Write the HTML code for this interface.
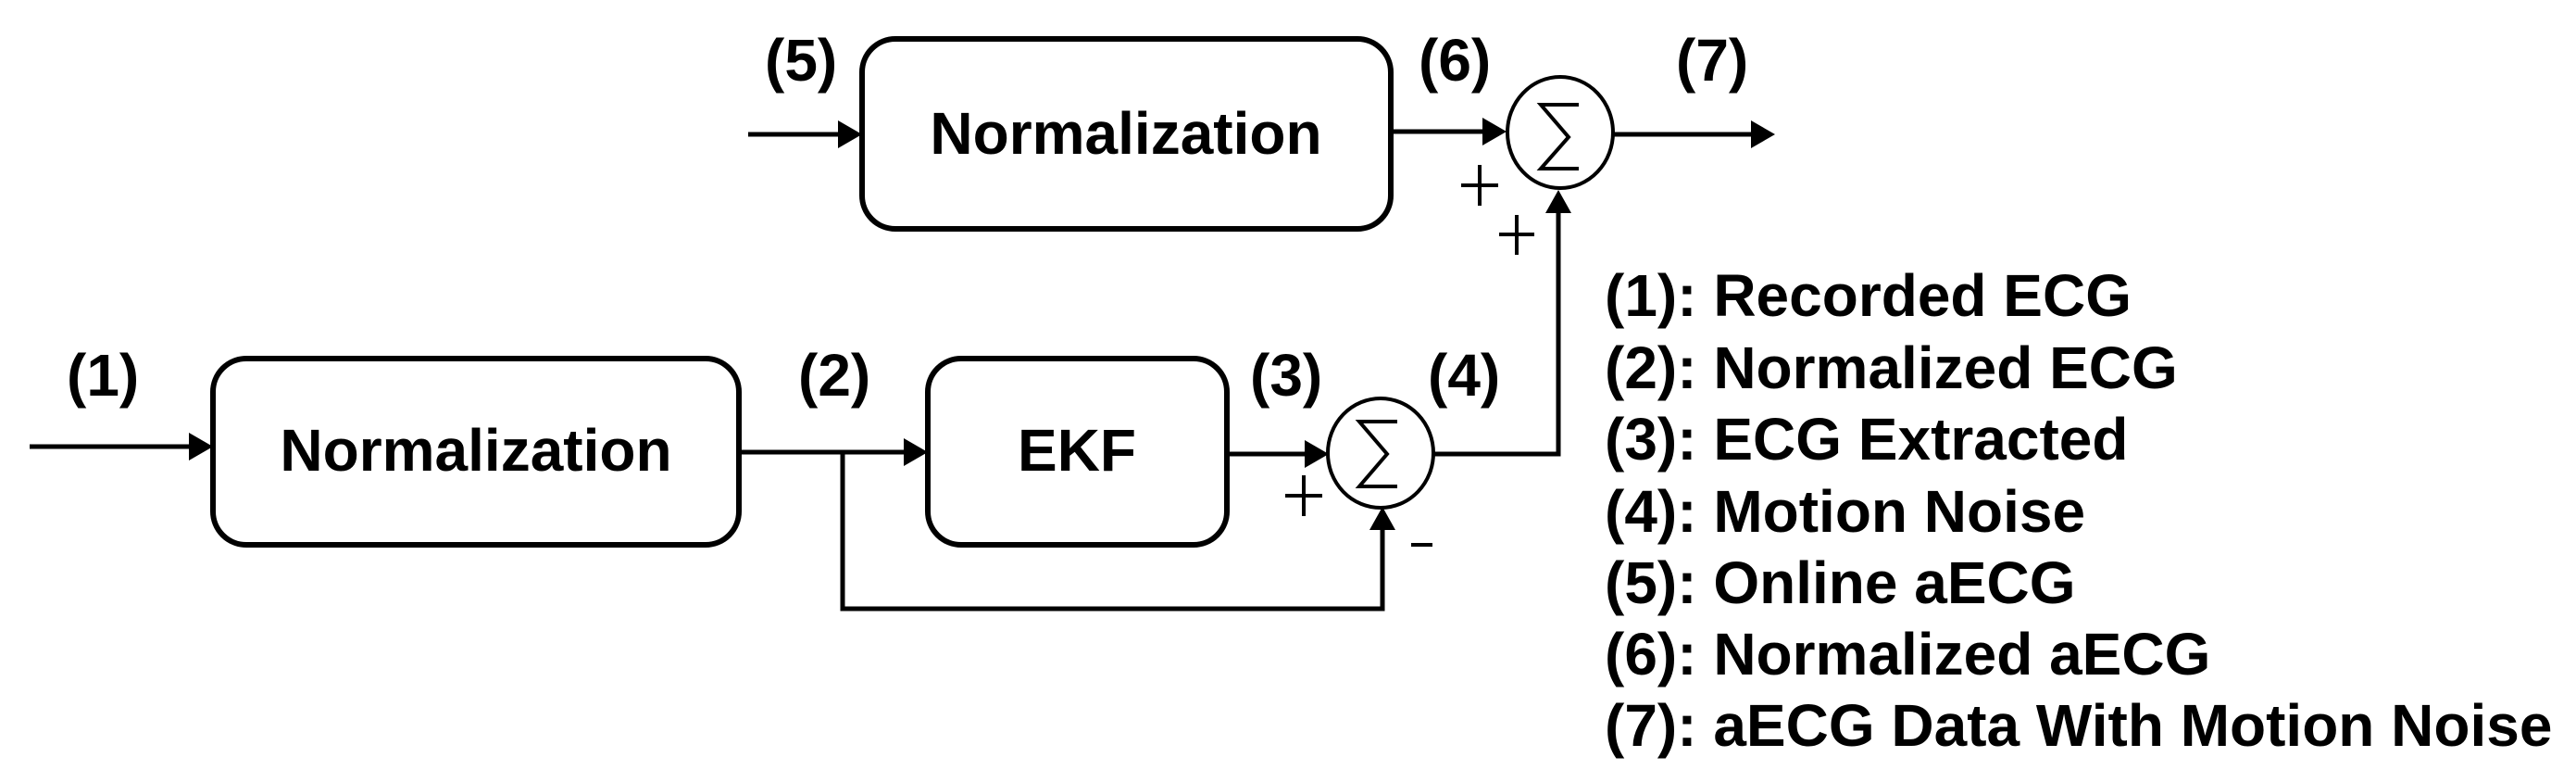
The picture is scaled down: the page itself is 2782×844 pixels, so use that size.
<!DOCTYPE html>
<html><head><meta charset="utf-8"><style>
html,body{margin:0;padding:0;background:#fff;}
svg{display:block;}
text{font-family:"Liberation Sans",Arial,sans-serif;font-weight:bold;font-size:64px;fill:#000;}
</style></head><body>
<svg width="2782" height="844" viewBox="0 0 2782 844" xmlns="http://www.w3.org/2000/svg">
<g fill="none" stroke="#000" stroke-width="6">
<rect x="931" y="42" width="571" height="205" rx="36" ry="36"/>
<rect x="230" y="387" width="568" height="201" rx="36" ry="36"/>
<rect x="1002" y="387" width="323" height="201" rx="36" ry="36"/>
</g>
<g fill="none" stroke="#000" stroke-width="5">
<line x1="808" y1="145" x2="910" y2="145"/>
<line x1="1502" y1="142" x2="1606" y2="142"/>
<line x1="1742" y1="145" x2="1895" y2="145"/>
<line x1="32" y1="482" x2="210" y2="482"/>
<line x1="798" y1="488" x2="982" y2="488"/>
<polyline points="910,488 910,657 1493,657 1493,568"/>
<line x1="1325" y1="490" x2="1414" y2="490"/>
<polyline points="1548,490 1683,490 1683,226"/>
</g>
<g fill="#000">
<polygon points="931,145 905,130 905,160"/>
<polygon points="1627,142 1601,127 1601,157"/>
<polygon points="1917,145 1891,130 1891,160"/>
<polygon points="230,482 204,467 204,497"/>
<polygon points="1002,488 976,473 976,503"/>
<polygon points="1435,490 1409,475 1409,505"/>
<polygon points="1683,205 1669,230 1697,230"/>
<polygon points="1493,547 1479,572 1507,572"/>
</g>
<g fill="none" stroke="#000" stroke-width="4">
<ellipse cx="1685" cy="143" rx="57" ry="60"/>
<ellipse cx="1491" cy="489" rx="57" ry="59"/>
<polyline points="1705,113 1664,113 1694,148 1664,182 1705,182"/>
<polyline points="1509,455 1468,455 1498,490 1468,525 1509,525"/>
<line x1="1578" y1="200" x2="1618" y2="200"/><line x1="1598" y1="178" x2="1598" y2="222"/>
<line x1="1619" y1="253" x2="1657" y2="253"/><line x1="1638" y1="232" x2="1638" y2="275"/>
<line x1="1388" y1="535" x2="1428" y2="535"/><line x1="1408" y1="513" x2="1408" y2="557"/>
<line x1="1524" y1="588" x2="1547" y2="588"/>
</g>
<text x="1216" y="166" text-anchor="middle">Normalization</text>
<text x="514" y="508" text-anchor="middle">Normalization</text>
<text x="1163" y="508" text-anchor="middle">EKF</text>
<text x="826" y="87">(5)</text>
<text x="1532" y="87">(6)</text>
<text x="1810" y="87">(7)</text>
<text x="72" y="427">(1)</text>
<text x="862" y="427">(2)</text>
<text x="1350" y="427">(3)</text>
<text x="1542" y="427">(4)</text>
<text x="1733" y="341">(1): Recorded ECG</text>
<text x="1733" y="419">(2): Normalized ECG</text>
<text x="1733" y="496">(3): ECG Extracted</text>
<text x="1733" y="574">(4): Motion Noise</text>
<text x="1733" y="651">(5): Online aECG</text>
<text x="1733" y="728">(6): Normalized aECG</text>
<text x="1733" y="805">(7): aECG Data With Motion Noise</text>
</svg>
</body></html>
